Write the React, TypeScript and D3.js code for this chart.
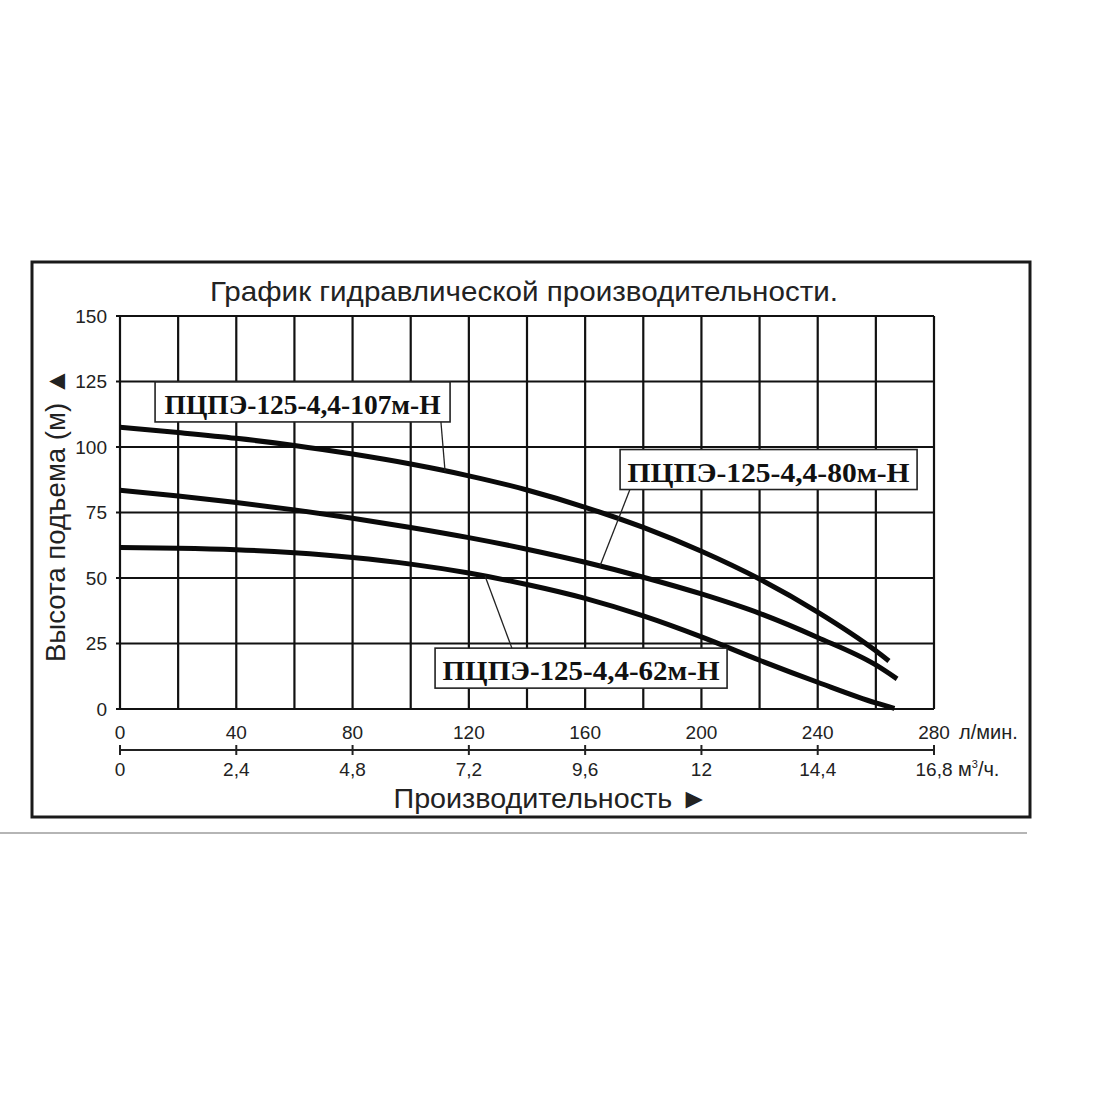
import * as d3 from 'd3';
import React, { useEffect, useRef } from 'react';

// flow, l/min  -> head, m
const flow107 = [0, 20, 40, 60, 80, 100, 120, 140, 160, 180, 200, 220, 240, 260, 264.5];
const head107 = [107.5, 105.5, 103.3, 100.6, 97.3, 93.5, 89.0, 83.6, 77.0, 69.3, 60.2, 49.6, 37.0, 22.2, 18.3];

const flow80 = [0, 20, 40, 60, 80, 100, 120, 140, 160, 180, 200, 220, 240, 260, 267.3];
const head80 = [83.5, 81.3, 78.8, 76.0, 72.8, 69.3, 65.4, 61.0, 56.0, 50.3, 43.9, 36.5, 27.3, 16.8, 11.5];

const flow62 = [0, 20, 40, 60, 80, 100, 120, 140, 160, 180, 200, 220, 240, 260, 266.4];
const head62 = [61.6, 61.4, 60.8, 59.6, 57.8, 55.3, 51.9, 47.5, 42.2, 35.5, 27.5, 18.6, 10.2, 2.3, 0.2];

const pumpNames = ['ПЦПЭ-125-4,4-107м-Н', 'ПЦПЭ-125-4,4-80м-Н', 'ПЦПЭ-125-4,4-62м-Н'];

const headTicks = [0, 25, 50, 75, 100, 125, 150];
const lpmTicks = [0, 40, 80, 120, 160, 200, 240, 280];
const m3Labels = ['0', '2,4', '4,8', '7,2', '9,6', '12', '14,4', '16,8'];

const title = 'График гидравлической производительности.';
const yTitle = 'Высота подъема (м) ▲';
const xTitle = 'Производительность ►';

// label boxes: centre in data units, leader from box edge to the curve
const labelLayout = [
  { cx: 62.8, cy: 117.2, w: 295, tl: 276, fromQ: 110.4, edge: 'bottom', toQ: 111.8 },
  { cx: 223.1, cy: 91.4, w: 297, tl: 282, fromQ: 175.4, edge: 'bottom', toQ: 165.1 },
  { cx: 158.6, cy: 15.6, w: 292, tl: 277, fromQ: 134.8, edge: 'top', toQ: 125.6 },
];

const sans = "'Liberation Sans', Arial, sans-serif";
const serif = "'Liberation Serif', 'Times New Roman', serif";

const App = () => {
  const svgRef = useRef(null);

  useEffect(() => {
    const svg = d3.select(svgRef.current);
    svg.selectAll('*').remove();

    const x = d3.scaleLinear().domain([0, 280]).range([120, 934]);
    const y = d3.scaleLinear().domain([0, 150]).range([709, 316]);

    // outer frame + rule underneath
    svg.append('rect')
      .attr('x', 32).attr('y', 262).attr('width', 998).attr('height', 555)
      .attr('fill', 'none').attr('stroke', '#1a1a1a').attr('stroke-width', 3);
    svg.append('line')
      .attr('x1', 0).attr('x2', 1027).attr('y1', 833).attr('y2', 833)
      .attr('stroke', '#b5b5b5').attr('stroke-width', 2);

    svg.append('text')
      .attr('x', 524).attr('y', 301)
      .attr('text-anchor', 'middle')
      .attr('textLength', 628).attr('lengthAdjust', 'spacingAndGlyphs')
      .style('font-family', sans).style('font-size', '28px').attr('fill', '#222')
      .text(title);

    // grid
    const grid = svg.append('g').attr('stroke', '#111').attr('stroke-width', 2.2);
    grid.selectAll('.v')
      .data(d3.range(0, 281, 20))
      .enter().append('line')
      .attr('x1', d => x(d)).attr('x2', d => x(d))
      .attr('y1', y(0)).attr('y2', y(150));
    grid.selectAll('.h')
      .data(headTicks)
      .enter().append('line')
      .attr('x1', x(0) - 4).attr('x2', x(280))
      .attr('y1', d => y(d)).attr('y2', d => y(d));

    // y axis labels
    svg.append('g').selectAll('text')
      .data(headTicks)
      .enter().append('text')
      .attr('x', 107).attr('y', d => y(d))
      .attr('dy', '0.36em').attr('text-anchor', 'end')
      .style('font-family', sans).style('font-size', '19px').attr('fill', '#222')
      .text(d => d);

    svg.append('text')
      .attr('transform', 'translate(65,515) rotate(-90)')
      .attr('text-anchor', 'middle')
      .attr('textLength', 294).attr('lengthAdjust', 'spacingAndGlyphs')
      .style('font-family', sans).style('font-size', '27px').attr('fill', '#222')
      .text(yTitle);

    // x axis: l/min row
    svg.append('g').selectAll('text')
      .data(lpmTicks)
      .enter().append('text')
      .attr('x', d => x(d)).attr('y', 739)
      .attr('text-anchor', 'middle')
      .style('font-family', sans).style('font-size', '19px').attr('fill', '#222')
      .text(d => d);
    svg.append('text')
      .attr('x', 959).attr('y', 739)
      .style('font-family', sans).style('font-size', '20px').attr('fill', '#222')
      .text('л/мин.');

    // m3/h scale line
    const m3 = svg.append('g').attr('stroke', '#222').attr('stroke-width', 2);
    m3.append('line')
      .attr('x1', x(0)).attr('x2', x(280)).attr('y1', 750).attr('y2', 750);
    m3.selectAll('.t')
      .data(lpmTicks)
      .enter().append('line')
      .attr('x1', d => x(d)).attr('x2', d => x(d))
      .attr('y1', 745).attr('y2', 755);
    svg.append('g').selectAll('text')
      .data(lpmTicks)
      .enter().append('text')
      .attr('x', d => x(d)).attr('y', 776)
      .attr('text-anchor', 'middle')
      .style('font-family', sans).style('font-size', '19px').attr('fill', '#222')
      .text((d, i) => m3Labels[i]);
    const unit = svg.append('text')
      .attr('x', 958).attr('y', 776)
      .style('font-family', sans).style('font-size', '20px').attr('fill', '#222');
    unit.append('tspan').text('м');
    unit.append('tspan').attr('dy', -8).style('font-size', '11px').text('3');
    unit.append('tspan').attr('dy', 8).text('/ч.');

    svg.append('text')
      .attr('x', 551).attr('y', 808)
      .attr('text-anchor', 'middle')
      .attr('textLength', 315).attr('lengthAdjust', 'spacingAndGlyphs')
      .style('font-family', sans).style('font-size', '28px').attr('fill', '#222')
      .text(xTitle);

    // curves
    const series = [
      { flow: flow107, head: head107 },
      { flow: flow80, head: head80 },
      { flow: flow62, head: head62 },
    ];
    const line = d3.line()
      .x(d => x(d[0]))
      .y(d => y(d[1]))
      .curve(d3.curveMonotoneX);

    svg.append('g').selectAll('path')
      .data(series)
      .enter().append('path')
      .attr('d', s => line(s.flow.map((f, i) => [f, s.head[i]])))
      .attr('fill', 'none')
      .attr('stroke', '#0a0a0a')
      .attr('stroke-width', 5);

    const headAt = (s, q) => {
      const i = Math.max(1, d3.bisectLeft(s.flow, q));
      const t = (q - s.flow[i - 1]) / (s.flow[i] - s.flow[i - 1]);
      return s.head[i - 1] + t * (s.head[i] - s.head[i - 1]);
    };

    // labels
    labelLayout.forEach((l, i) => {
      const bx = x(l.cx) - l.w / 2;
      const by = y(l.cy) - 20;
      const ey = l.edge === 'bottom' ? by + 40 : by;
      svg.append('line')
        .attr('x1', x(l.fromQ)).attr('y1', ey)
        .attr('x2', x(l.toQ)).attr('y2', y(headAt(series[i], l.toQ)))
        .attr('stroke', '#222').attr('stroke-width', 1.3);
      svg.append('rect')
        .attr('x', bx).attr('y', by).attr('width', l.w).attr('height', 40)
        .attr('fill', '#fff').attr('stroke', '#222').attr('stroke-width', 1.6);
      svg.append('text')
        .attr('x', x(l.cx)).attr('y', by + 32)
        .attr('text-anchor', 'middle')
        .attr('textLength', l.tl).attr('lengthAdjust', 'spacingAndGlyphs')
        .style('font-family', serif).style('font-size', '28px').style('font-weight', 'bold')
        .attr('fill', '#111')
        .text(pumpNames[i]);
    });
  }, []);

  return (
    <svg
      ref={svgRef}
      width={1100}
      height={1100}
      style={{ position: 'absolute', left: 0, top: 0, background: '#fff' }}
    />
  );
};

export default App;
